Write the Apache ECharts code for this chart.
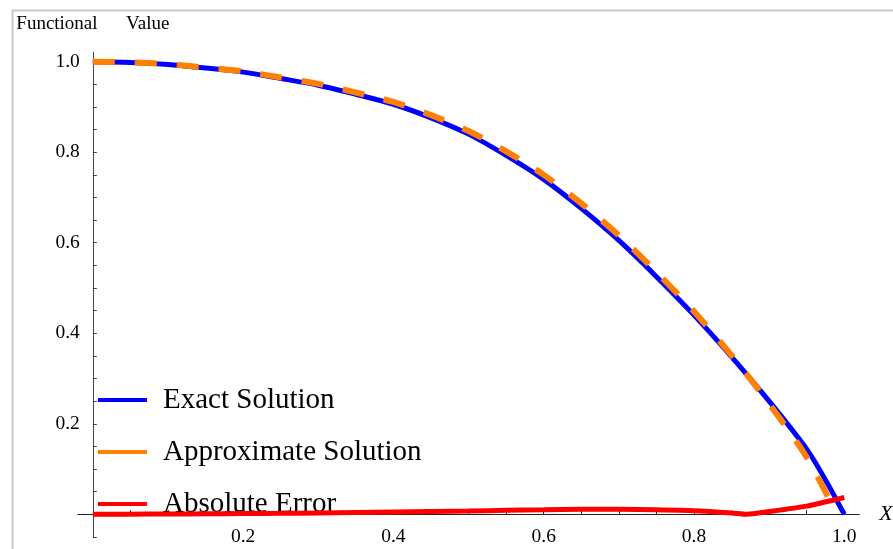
<!DOCTYPE html>
<html>
<head>
<meta charset="utf-8">
<script src="https://cdn.jsdelivr.net/npm/echarts@6/dist/echarts.min.js"></script>
<style>html,body{margin:0;padding:0;background:#fff}#c{width:893px;height:549px}</style>
</head>
<body>
<div id="c"></div>
<script>
// ---- data ----
const exactX  = [0,0.05,0.1,0.15,0.2,0.25,0.3,0.35,0.4,0.45,0.5,0.55,0.6,0.65,0.7,0.75,0.8,0.85,0.9,0.95,0.975,1.0];
const exactY  = [1.000,0.9985,0.994,0.986,0.977,0.963,0.948,0.928,0.906,0.876,0.840,0.793,0.740,0.676,0.605,0.525,0.440,0.348,0.250,0.144,0.076,0.000];
const approxX = [0,0.05,0.1,0.15,0.2,0.25,0.3,0.35,0.4,0.45,0.5,0.55,0.6,0.65,0.7,0.75,0.8,0.85,0.9,0.95,0.99];
const approxY = [1.000,0.9987,0.9945,0.987,0.9785,0.965,0.951,0.932,0.911,0.882,0.847,0.802,0.750,0.687,0.616,0.535,0.448,0.351,0.244,0.126,0.000];
const errorX  = [0,0.05,0.1,0.15,0.2,0.25,0.3,0.35,0.4,0.45,0.5,0.55,0.6,0.65,0.7,0.75,0.8,0.85,0.87,0.9,0.95,1.0];
const errorY  = [0,0.0002,0.0005,0.001,0.0015,0.002,0.003,0.004,0.005,0.006,0.007,0.009,0.010,0.011,0.011,0.010,0.008,0.003,0.000,0.006,0.018,0.037];
const seriesNames = ['Exact Solution','Approximate Solution','Absolute Error'];
const xTickLabels = [0.2,0.4,0.6,0.8,1.0];
const yTickLabels = [0.2,0.4,0.6,0.8,1.0];
const xTicks = [0.05,0.1,0.15,0.2,0.25,0.3,0.35,0.4,0.45,0.5,0.55,0.6,0.65,0.7,0.75,0.8,0.85,0.9,0.95,1.0];
const yTicks = [-0.05,0.05,0.1,0.15,0.2,0.25,0.3,0.35,0.4,0.45,0.5,0.55,0.6,0.65,0.7,0.75,0.8,0.85,0.9,0.95,1.0];
const xName = 'X';
const yName = 'Functional      Value';

const zip = (xs, ys) => xs.map((x, i) => [x, ys[i]]);
const serif = "'Liberation Serif','Times New Roman',serif";

const chart = echarts.init(document.getElementById('c'), null, {renderer: 'canvas'});
chart.setOption({
  animation: false,
  backgroundColor: '#fff',
  graphic: [{
    type: 'rect', left: 10, top: 8, z: -10,
    shape: {width: 1000, height: 1000},
    style: {fill: 'none', stroke: '#c8c8c8', lineWidth: 2}
  }],
  grid: {left: 77.8, right: 33.7, top: 52.2, bottom: 12.1, containLabel: false, outerBoundsMode: 'none'},
  legend: {
    orient: 'vertical', left: 98, top: 385, padding: 0,
    itemWidth: 49, itemHeight: 4, itemGap: 22,
    textStyle: {fontFamily: serif, fontSize: 29, lineHeight: 30, color: '#000', padding: [0,0,0,11]},
    data: [
      {name: seriesNames[0], icon: 'rect', itemStyle: {color: '#0000ff'}},
      {name: seriesNames[1], icon: 'rect', itemStyle: {color: '#ff8000'}},
      {name: seriesNames[2], icon: 'rect', itemStyle: {color: '#ff0000'}}
    ]
  },
  xAxis: {
    type: 'value', min: -0.02, max: 1.02,
    name: xName, nameLocation: 'end', nameGap: 20,
    nameTextStyle: {fontFamily: serif, fontSize: 22, fontStyle: 'italic', color: '#000', verticalAlign: 'middle'},
    axisLine: {onZero: true, lineStyle: {color: '#222', width: 1}},
    axisTick: {show: true, inside: true, length: 4, customValues: xTicks, lineStyle: {color: '#222'}},
    axisLabel: {customValues: xTickLabels, formatter: v => v.toFixed(1), fontFamily: serif, fontSize: 19.5, color: '#000', margin: -10},
    splitLine: {show: false}
  },
  yAxis: {
    type: 'value', min: -0.05, max: 1.021,
    name: yName, nameLocation: 'end', nameGap: 19,
    nameTextStyle: {fontFamily: serif, fontSize: 19, color: '#000'},
    axisLine: {onZero: true, lineStyle: {color: '#444', width: 1}},
    axisTick: {show: true, inside: true, length: 4, customValues: yTicks, lineStyle: {color: '#444'}},
    axisLabel: {customValues: yTickLabels, formatter: v => v.toFixed(1), fontFamily: serif, fontSize: 19.5, color: '#000', margin: -2},
    splitLine: {show: false}
  },
  series: [
    {name: seriesNames[0], type: 'line', data: zip(exactX, exactY), smooth: 0.3, symbol: 'none',
     lineStyle: {color: '#0000ff', width: 5}, itemStyle: {color: '#0000ff'}, z: 2},
    {name: seriesNames[1], type: 'line', data: zip(approxX, approxY), smooth: 0.3, symbol: 'none',
     lineStyle: {color: '#ff8000', width: 6, type: [22, 20], cap: 'butt'}, itemStyle: {color: '#ff8000'}, z: 3},
    {name: seriesNames[2], type: 'line', data: zip(errorX, errorY), smooth: 0.2, symbol: 'none',
     lineStyle: {color: '#ff0000', width: 5}, itemStyle: {color: '#ff0000'}, z: 4}
  ]
});
</script>
</body>
</html>
